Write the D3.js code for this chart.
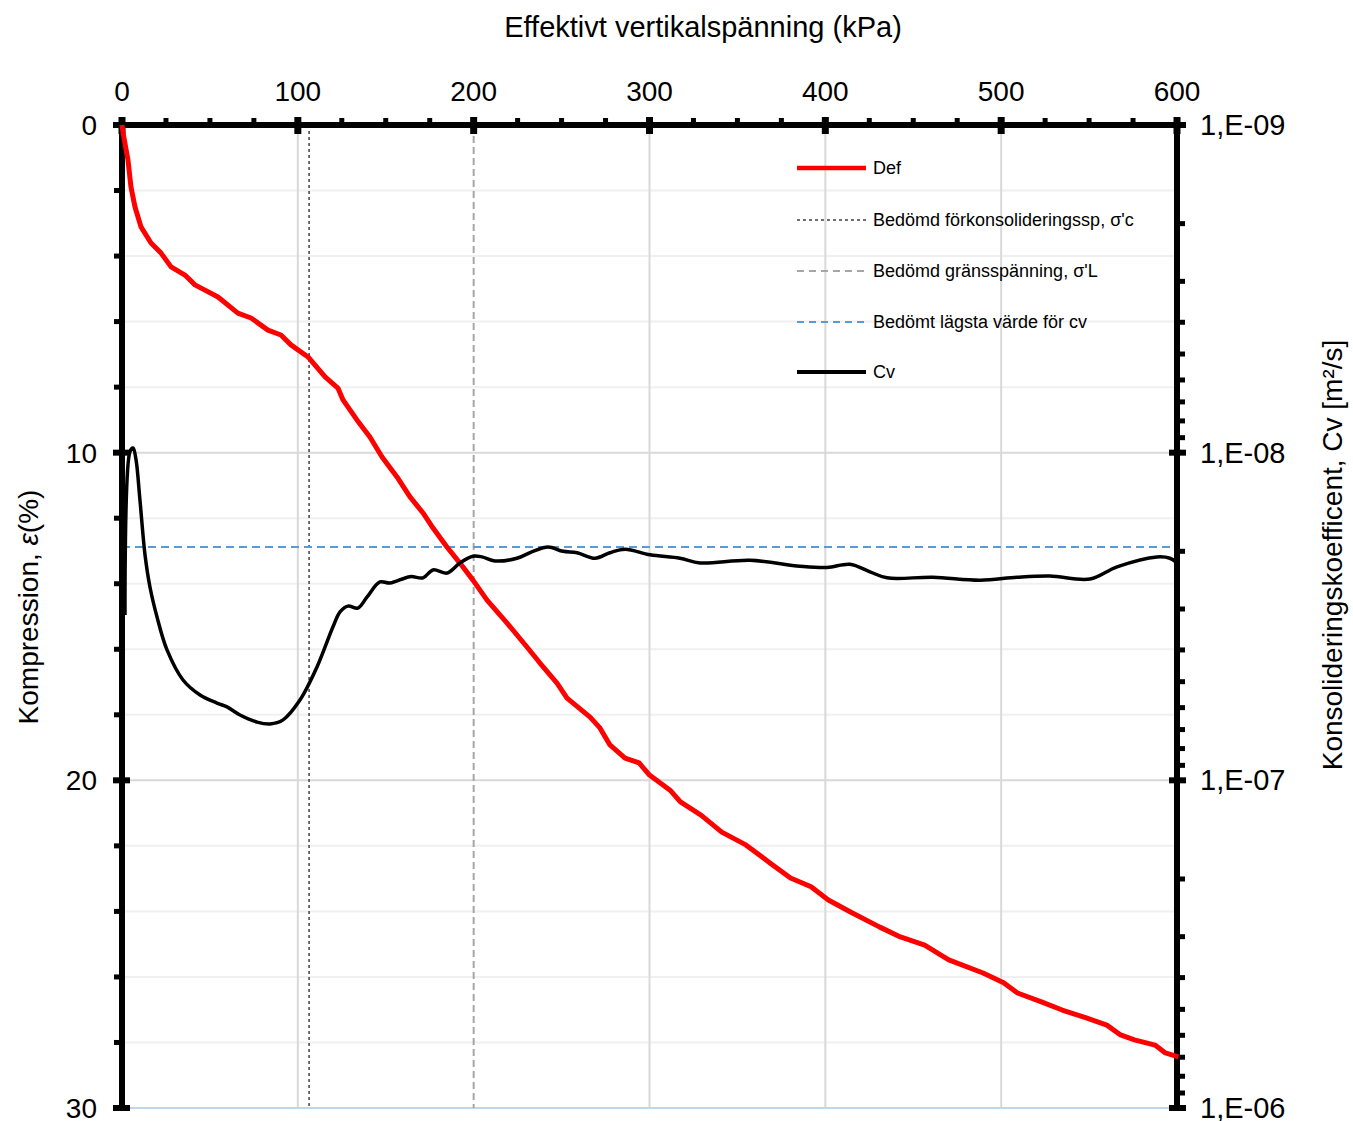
<!DOCTYPE html>
<html>
<head>
<meta charset="utf-8">
<script src="https://d3js.org/d3.v7.min.js"></script>
<style>
  body { margin: 0; background: #fff; }
  text { font-family: "Liberation Sans", Arial, sans-serif; fill: #000; }
</style>
</head>
<body>
<script>
// Deformation curve (stress in kPa, compression in %)
var defStress = [0, 0.6, 3.4, 5.1, 7.4, 10.8, 16.5, 22.2, 27.9, 35.8, 41.5, 54.6, 65.9, 73.4, 83.0, 90.4, 96.1,
  105.8, 115.5, 122.8, 125.7, 133.6, 141.0, 147.9, 156.4, 163.8, 171.2, 176.9, 184.8, 192.2, 199.6, 207.6,
  219.0, 230.3, 237.7, 247.4, 253.1, 266.2, 271.8, 277.5, 286.1, 294.1, 300.0, 311.7, 317.6, 329.3, 341.1,
  354.8, 368.5, 380.2, 391.9, 401.7, 415.4, 431.0, 442.7, 456.5, 470.2, 489.7, 501.4, 509.3, 522.9, 534.7,
  548.4, 560.1, 567.9, 575.8, 587.5, 593.4, 600.8];
var defComp = [0, 0.24, 1.07, 1.89, 2.50, 3.11, 3.60, 3.91, 4.33, 4.58, 4.88, 5.25, 5.74, 5.89, 6.26, 6.41, 6.71,
  7.08, 7.69, 8.03, 8.39, 9.00, 9.52, 10.13, 10.74, 11.35, 11.84, 12.30, 12.88, 13.37, 13.89, 14.50,
  15.20, 15.93, 16.42, 17.03, 17.49, 18.07, 18.40, 18.92, 19.32, 19.47, 19.84, 20.30, 20.66, 21.06, 21.58,
  21.97, 22.52, 22.98, 23.25, 23.65, 24.05, 24.48, 24.78, 25.03, 25.48, 25.88, 26.18, 26.49, 26.76, 27.01,
  27.25, 27.47, 27.77, 27.92, 28.08, 28.32, 28.44];

// Consolidation coefficient (stress in kPa, cv in m2/s)
var cvStress = [1.7, 4.5, 6.3, 8.0, 10.2, 13.1, 15.9, 19.9, 25.6, 34.7, 44.4, 54.0, 59.7, 67.1, 76.8, 84.2, 91.6,
  101.2, 110.9, 120.0, 124.0, 128.5, 134.2, 139.3, 146.7, 152.4, 163.8, 171.2, 176.9, 184.8, 192.2, 199.6,
  204.7, 212.1, 224.6, 233.7, 242.3, 250.8, 258.8, 269.0, 277.5, 286.1, 300.3, 317.3, 328.7, 357.2, 385.6,
  401.0, 414.0, 425.4, 435.1, 461.2, 488.0, 509.0, 527.8, 550.5, 565.9, 588.6, 596.0, 600.0];
var cvValues = [3.13e-8, 0.995e-8, 0.968e-8, 1.053e-8, 1.394e-8, 2.053e-8, 2.57e-8, 3.17e-8, 4.0e-8, 4.94e-8,
  5.49e-8, 5.81e-8, 5.97e-8, 6.32e-8, 6.64e-8, 6.73e-8, 6.54e-8, 5.69e-8, 4.51e-8, 3.40e-8, 3.06e-8, 2.94e-8,
  2.98e-8, 2.76e-8, 2.48e-8, 2.50e-8, 2.39e-8, 2.41e-8, 2.28e-8, 2.33e-8, 2.17e-8, 2.07e-8, 2.08e-8, 2.14e-8,
  2.10e-8, 2.00e-8, 1.94e-8, 2.00e-8, 2.02e-8, 2.10e-8, 2.02e-8, 1.97e-8, 2.05e-8, 2.10e-8, 2.17e-8, 2.13e-8,
  2.22e-8, 2.24e-8, 2.19e-8, 2.31e-8, 2.41e-8, 2.40e-8, 2.45e-8, 2.40e-8, 2.38e-8, 2.43e-8, 2.23e-8, 2.08e-8,
  2.10e-8, 2.17e-8];

// Assessed values
var preconsolidation = 106.4;   // sigma'c, kPa
var limitStress = 200;          // sigma'L, kPa
var cvMin = 1.94e-8;            // lowest cv, m2/s

// Axis ticks
var xTicks = [0, 100, 200, 300, 400, 500, 600];
var xMinorTicks = d3.range(25, 600, 25).filter(function(v) { return v % 100 !== 0; });
var yTicks = [0, 10, 20, 30];
var yMinorTicks = [2, 4, 6, 8, 12, 14, 16, 18, 22, 24, 26, 28];
var cvTicks = [1e-9, 1e-8, 1e-7, 1e-6];
var cvTickLabels = ["1,E-09", "1,E-08", "1,E-07", "1,E-06"];

var legendLabels = ["Def", "Bedömd förkonsolideringssp, σ'c", "Bedömd gränsspänning, σ'L",
  "Bedömt lägsta värde för cv", "Cv"];

var W = 1353, H = 1121;
var pLeft = 122, pRight = 1177, pTop = 125, pBottom = 1108;

var svg = d3.select("body").append("svg")
  .attr("width", W).attr("height", H);

var x = d3.scaleLinear().domain([0, 600]).range([pLeft, pRight]);
var y = d3.scaleLinear().domain([0, 30]).range([pTop, pBottom]);
var yCv = d3.scaleLog().domain([1e-9, 1e-6]).range([pTop, pBottom]);

// gridlines
var grid = svg.append("g");
grid.selectAll(".hminor").data(yMinorTicks).enter().append("line")
  .attr("x1", pLeft).attr("x2", pRight)
  .attr("y1", function(d) { return y(d); }).attr("y2", function(d) { return y(d); })
  .attr("stroke", "#f0f0f0").attr("stroke-width", 2);
grid.selectAll(".hmajor").data([10, 20]).enter().append("line")
  .attr("x1", pLeft).attr("x2", pRight)
  .attr("y1", function(d) { return y(d); }).attr("y2", function(d) { return y(d); })
  .attr("stroke", "#d9d9d9").attr("stroke-width", 2);
grid.selectAll(".vmajor").data([100, 300, 400, 500]).enter().append("line")
  .attr("x1", function(d) { return x(d); }).attr("x2", function(d) { return x(d); })
  .attr("y1", pTop).attr("y2", pBottom)
  .attr("stroke", "#d9d9d9").attr("stroke-width", 2);
grid.append("line")
  .attr("x1", pLeft).attr("x2", pRight).attr("y1", y(30)).attr("y2", y(30))
  .attr("stroke", "#bdd7ee").attr("stroke-width", 2);

// assessed lines
svg.append("line")
  .attr("x1", x(preconsolidation)).attr("x2", x(preconsolidation))
  .attr("y1", pTop).attr("y2", pBottom)
  .attr("stroke", "#404040").attr("stroke-width", 1.5).attr("stroke-dasharray", "3,3");
svg.append("line")
  .attr("x1", x(limitStress)).attr("x2", x(limitStress))
  .attr("y1", pTop).attr("y2", pBottom)
  .attr("stroke", "#a6a6a6").attr("stroke-width", 2).attr("stroke-dasharray", "7,4");
svg.append("line")
  .attr("x1", pLeft).attr("x2", pRight)
  .attr("y1", yCv(cvMin)).attr("y2", yCv(cvMin))
  .attr("stroke", "#5b9bd5").attr("stroke-width", 2).attr("stroke-dasharray", "8,5");

// axes lines and ticks
var ax = svg.append("g");
ax.append("line").attr("x1", pLeft - 4).attr("x2", pRight + 4).attr("y1", pTop).attr("y2", pTop)
  .attr("stroke", "#000").attr("stroke-width", 6);
ax.append("line").attr("x1", pLeft).attr("x2", pLeft).attr("y1", pTop).attr("y2", pBottom + 3)
  .attr("stroke", "#000").attr("stroke-width", 6);
ax.append("line").attr("x1", pRight).attr("x2", pRight).attr("y1", pTop).attr("y2", pBottom + 3)
  .attr("stroke", "#000").attr("stroke-width", 6);

ax.selectAll(".xt").data(xTicks).enter().append("line")
  .attr("x1", function(d) { return x(d); }).attr("x2", function(d) { return x(d); })
  .attr("y1", pTop - 8).attr("y2", pTop + 9)
  .attr("stroke", "#000").attr("stroke-width", 7);
ax.selectAll(".xm").data(xMinorTicks).enter().append("line")
  .attr("x1", function(d) { return x(d); }).attr("x2", function(d) { return x(d); })
  .attr("y1", pTop - 7).attr("y2", pTop)
  .attr("stroke", "#000").attr("stroke-width", 5);
ax.selectAll(".yt").data(yTicks).enter().append("line")
  .attr("x1", pLeft - 9).attr("x2", pLeft + 8)
  .attr("y1", function(d) { return y(d); }).attr("y2", function(d) { return y(d); })
  .attr("stroke", "#000").attr("stroke-width", 6);
ax.selectAll(".ym").data(yMinorTicks).enter().append("line")
  .attr("x1", pLeft - 8).attr("x2", pLeft)
  .attr("y1", function(d) { return y(d); }).attr("y2", function(d) { return y(d); })
  .attr("stroke", "#000").attr("stroke-width", 5);

var cvMinor = [];
[1e-9, 1e-8, 1e-7].forEach(function(dec) {
  for (var k = 2; k <= 9; k++) cvMinor.push(dec * k);
});
ax.selectAll(".ct").data(cvTicks).enter().append("line")
  .attr("x1", pRight - 8).attr("x2", pRight + 9)
  .attr("y1", function(d) { return yCv(d); }).attr("y2", function(d) { return yCv(d); })
  .attr("stroke", "#000").attr("stroke-width", 6);
ax.selectAll(".cm").data(cvMinor).enter().append("line")
  .attr("x1", pRight).attr("x2", pRight + 8)
  .attr("y1", function(d) { return yCv(d); }).attr("y2", function(d) { return yCv(d); })
  .attr("stroke", "#000").attr("stroke-width", 5);

// tick labels
ax.selectAll(".xl").data(xTicks).enter().append("text")
  .attr("x", function(d) { return x(d); }).attr("y", 101)
  .attr("text-anchor", "middle").attr("font-size", 28)
  .text(function(d) { return d; });
ax.selectAll(".yl").data(yTicks).enter().append("text")
  .attr("x", 97).attr("y", function(d) { return y(d) + 10; })
  .attr("text-anchor", "end").attr("font-size", 28)
  .text(function(d) { return d; });
ax.selectAll(".cl").data(cvTicks).enter().append("text")
  .attr("x", 1200).attr("y", function(d) { return yCv(d) + 10; })
  .attr("font-size", 29)
  .text(function(d, i) { return cvTickLabels[i]; });

// axis titles
svg.append("text")
  .attr("x", 703).attr("y", 37).attr("text-anchor", "middle").attr("font-size", 29)
  .text("Effektivt vertikalspänning (kPa)");
var lt = svg.append("text")
  .attr("transform", "translate(38,607) rotate(-90)")
  .attr("text-anchor", "middle").attr("font-size", 28);
lt.append("tspan").text("Kompression, ");
lt.append("tspan").attr("font-style", "italic").text("ε");
lt.append("tspan").text("(%)");
svg.append("text")
  .attr("transform", "translate(1342,555) rotate(-90)")
  .attr("text-anchor", "middle").attr("font-size", 28)
  .text("Konsolideringskoefficent,  Cv [m²/s]");

// curves
var defLine = d3.line()
  .x(function(d, i) { return x(defStress[i]); })
  .y(function(d, i) { return y(defComp[i]); });
svg.append("path")
  .attr("d", defLine(defStress))
  .attr("fill", "none").attr("stroke", "#ff0000").attr("stroke-width", 5)
  .attr("stroke-linejoin", "round");

var cvLine = d3.line()
  .curve(d3.curveCatmullRom.alpha(0.5))
  .x(function(d, i) { return x(cvStress[i]); })
  .y(function(d, i) { return yCv(cvValues[i]); });
svg.append("path")
  .attr("d", cvLine(cvStress))
  .attr("fill", "none").attr("stroke", "#000").attr("stroke-width", 3.5)
  .attr("stroke-linejoin", "round");

// legend
var legendStyles = [
  {stroke: "#ff0000", width: 4.5, dash: null},
  {stroke: "#404040", width: 1.5, dash: "3,3"},
  {stroke: "#a6a6a6", width: 2, dash: "7,5"},
  {stroke: "#5b9bd5", width: 2, dash: "7,5"},
  {stroke: "#000", width: 4, dash: null}
];
var legendY = [168, 220, 271, 322, 372];
var lg = svg.append("g");
legendLabels.forEach(function(label, i) {
  var s = legendStyles[i];
  var ln = lg.append("line")
    .attr("x1", 797).attr("x2", 866)
    .attr("y1", legendY[i]).attr("y2", legendY[i])
    .attr("stroke", s.stroke).attr("stroke-width", s.width);
  if (s.dash) ln.attr("stroke-dasharray", s.dash);
  lg.append("text")
    .attr("x", 873).attr("y", legendY[i] + 6)
    .attr("font-size", 18)
    .text(label);
});
</script>
</body>
</html>
